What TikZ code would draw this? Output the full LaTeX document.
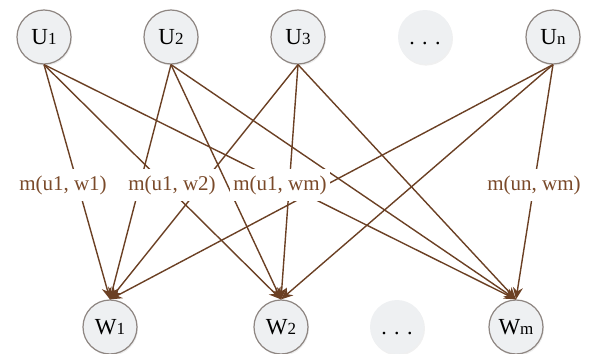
\documentclass[tikz,border=0pt]{standalone}
\usepackage{fontspec}
\setmainfont{Liberation Serif}
\usetikzlibrary{arrows.meta,shadows}
\definecolor{edgebrown}{HTML}{6B4024}
\definecolor{labelbrown}{HTML}{7A4A2A}
\definecolor{nodefill}{HTML}{EEF0F2}
\definecolor{nodeborder}{HTML}{8E8682}
\newcommand\nodename[2]{{\fontsize{11.5}{13}\selectfont #1}{\fontsize{8.5}{10}\selectfont #2}}
\begin{document}
\begin{tikzpicture}[x=0.5pt,y=-0.5pt,
  vnode/.style={circle,minimum size=27pt,inner sep=0pt,fill=nodefill,draw=nodeborder,line width=0.6pt,
    drop shadow={shadow xshift=0.5pt,shadow yshift=-0.8pt,opacity=0.15}},
  dotnode/.style={circle,minimum size=27pt,inner sep=0pt,fill=nodefill,
    drop shadow={shadow xshift=0.5pt,shadow yshift=-0.8pt,opacity=0.12},font=\fontsize{11}{13}\selectfont},
  conn/.style={draw=edgebrown,line width=0.7pt,-{Stealth[length=6pt,width=5pt]}},
  wlabel/.style={fill=white,text=labelbrown,font=\fontsize{10.5}{12}\selectfont,inner xsep=1.5pt,inner ysep=3pt}]
\useasboundingbox (0,0) rectangle (591,354);
% top row
\node[vnode] (u1) at (44,37) {\nodename{U}{1}};
\node[vnode] (u2) at (171,37) {\nodename{U}{2}};
\node[vnode] (u3) at (298,37) {\nodename{U}{3}};
\node[dotnode] (ud) at (425,37) {\vphantom{U}. . .};
\node[vnode] (un) at (553,37) {\nodename{U}{n}};
% bottom row
\node[vnode] (w1) at (110,327) {\nodename{W}{1}};
\node[vnode] (w2) at (281,327) {\nodename{W}{2}};
\node[dotnode] (wd) at (397,327) {\vphantom{W}. . .};
\node[vnode] (wm) at (516,327) {\nodename{W}{m}};
% edges
\foreach \u in {u1,u2,u3,un}{
  \foreach \w in {w1,w2,wm}{
    \draw[conn] (\u.south) -- (\w.north);
  }
}
% labels
\node[wlabel] (l1) at (63,185) {m(u1, w1)};
\node[wlabel] (l2) at (172,185) {m(u1, w2)};
\node[wlabel] (l3) at (280,185) {m(u1, wm)};
\node[wlabel] (l4) at (534,185) {m(un, wm)};
\end{tikzpicture}
\end{document}
